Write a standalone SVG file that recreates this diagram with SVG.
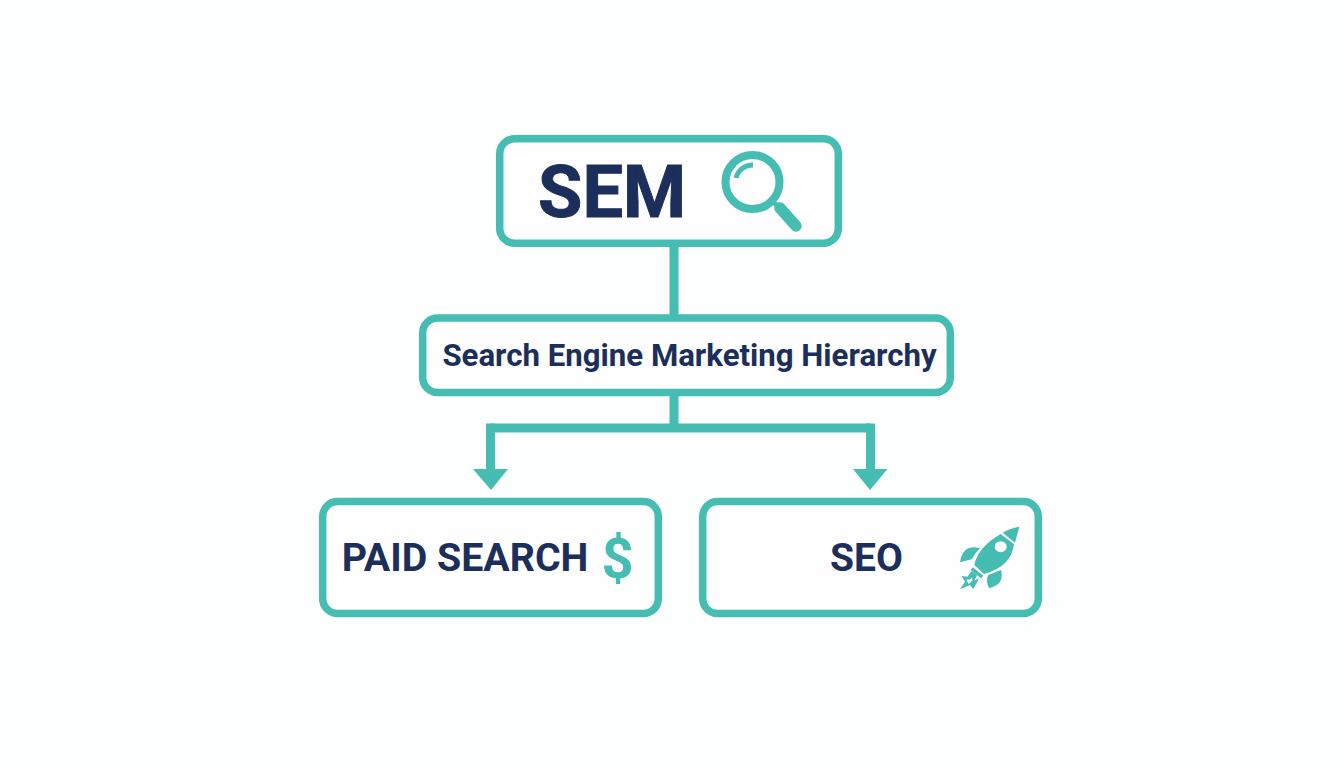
<svg xmlns="http://www.w3.org/2000/svg" width="1344" height="768" viewBox="0 0 1344 768">
<style>
.box{fill:#fefefe;stroke:#45bdb3;stroke-width:7.5}
.t{font-family:Roboto,"Liberation Sans",sans-serif;font-weight:700;fill:#1c2e5a;text-anchor:middle}
.ic{fill:#45bdb3}
.ln{fill:none;stroke:#45bdb3;stroke-width:9}
.st{fill:none;stroke:#45bdb3}
</style>
<rect width="1344" height="768" fill="#fdfefe"/>
<g id="connectors">
<path class="ln" d="M674 246V316"/>
<path class="ln" d="M674 394V428"/>
<path class="ln" d="M490.500 428H870.500"/>
<path class="ln" d="M490.500 423.500V470"/>
<path class="ln" d="M870.500 423.500V470"/>
<path class="ic" d="M473 469H508L491 490Z"/>
<path class="ic" d="M853 469H887.500L870 490Z"/>
</g>
<g id="sem">
<rect class="box" x="499.700" y="138.700" width="338.600" height="104.600" rx="15"/>
<text class="t" x="612" y="216.700" font-size="72" stroke="#1c2e5a" stroke-width="1">SEM</text>
<circle class="st" cx="752.500" cy="182" r="27" stroke-width="8"/>
<path class="st" d="M736 178A17 17 0 0 1 753 165" stroke-width="5"/>
<path class="st" d="M772 201L781 209" stroke-width="5"/>
<path class="st" d="M780 208L796 226" stroke-width="11.500" stroke-linecap="round"/>
</g>
<g id="hierarchy">
<rect class="box" x="422.700" y="318" width="527.600" height="74.500" rx="15"/>
<text class="t" x="689.500" y="365.500" font-size="31.200">Search Engine Marketing Hierarchy</text>
</g>
<g id="paid-search">
<rect class="box" x="322.700" y="501.500" width="335.600" height="112" rx="15"/>
<text class="t" x="465" y="571" font-size="39.300">PAID SEARCH</text>
<text x="617.500" y="577.500" font-family="Roboto,'Liberation Sans',sans-serif" font-weight="700" font-size="56" fill="#45bdb3" text-anchor="middle">$</text>
</g>
<g id="seo">
<rect class="box" x="702.700" y="501.500" width="335.600" height="112" rx="15"/>
<text class="t" x="866.500" y="571" font-size="39">SEO</text>
<path class="ic" d="M1019.300 526.700L1015 542.700L1002.700 532.700Q1010 528 1019.300 526.700Z"/>
<path class="ic" fill-rule="evenodd" d="M1000.700 534L1014 544.300Q1011 567 984 574L974.300 565Q978 547 1000.700 534ZM1006.700 546.700a6 5.500 0 1 0 -12 0a6 5.500 0 1 0 12 0Z"/>
<path class="ic" d="M972.700 567.300L983.300 575.700L981 578.300L970.700 570Z"/>
<path class="ic" d="M980 548.300Q963 543.500 960 562.300L971.700 559.300Q975 553 980 548.300Z"/>
<path class="ic" d="M988.300 575L1001 570Q1005 584 989.300 588.300Q985 581 988.300 575Z"/>
<path class="ic" fill-rule="evenodd" d="M971.700 571L967.300 576.700L961.700 576L965 581.700L960 589.300L970 585L973.300 589L979.300 578.300L974.500 580.500L977 575ZM966.500 579.500L970 579.500L972 577.500L972.500 580.500L968.500 584Z"/>
</g>
</svg>
